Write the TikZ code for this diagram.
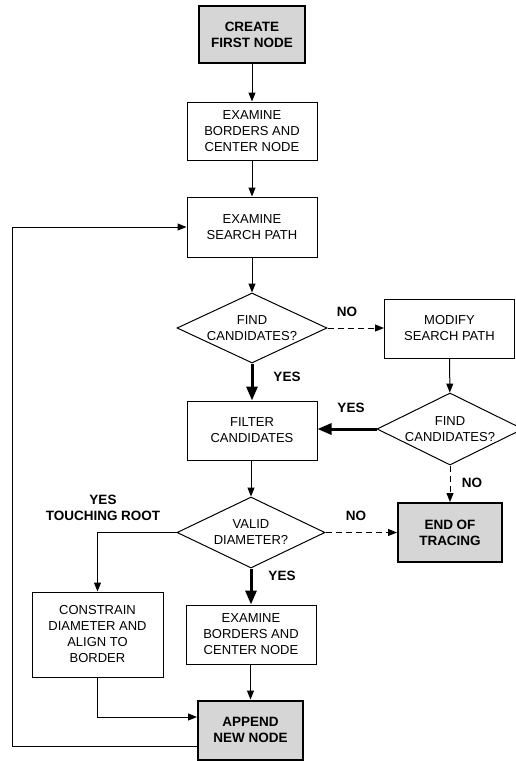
\documentclass[tikz,border=0pt]{standalone}
\usepackage{fontspec}
\setmainfont{Liberation Sans}
\usetikzlibrary{arrows.meta,shapes.geometric,calc}

\definecolor{boxgray}{HTML}{D6D6D6}

\tikzset{
  stepbox/.style={draw, line width=1pt, fill=white, align=center, inner sep=2pt,
    font=\fontsize{13}{16}\selectfont},
  keybox/.style={stepbox, fill=boxgray, line width=2pt,
    font=\fontsize{13.5}{16}\selectfont\bfseries},
  decision/.style={draw, diamond, line width=1pt, fill=white, inner sep=0pt},
  dtext/.style={align=center, inner sep=0pt, font=\fontsize{13}{16}\selectfont},
  flow/.style={line width=1pt, -{Triangle[length=9pt,width=7pt]}},
  noflow/.style={flow, dash pattern=on 6pt off 4pt},
  yesflow/.style={line width=3pt, -{Triangle[length=14pt,width=11pt]}},
  tag/.style={font=\fontsize{13.5}{16}\selectfont\bfseries, align=center, inner sep=0pt}
}

\begin{document}
\begin{tikzpicture}[x=1pt,y=-1pt]
\useasboundingbox (0,0) rectangle (515,761);

% process boxes
\node[keybox, minimum width=106pt, minimum height=57pt] (create) at (252,34.5) {CREATE\\FIRST NODE};
\node[stepbox, minimum width=130pt, minimum height=58pt] (exam1) at (252,131) {EXAMINE\\BORDERS AND\\CENTER NODE};
\node[stepbox, minimum width=130pt, minimum height=60pt] (search) at (252,227) {EXAMINE\\SEARCH PATH};
\node[stepbox, minimum width=130pt, minimum height=59pt] (modify) at (449.5,328.5) {MODIFY\\SEARCH PATH};
\node[stepbox, minimum width=130pt, minimum height=59pt] (filter) at (252,430.5) {FILTER\\CANDIDATES};
\node[keybox, minimum width=104pt, minimum height=59pt] (end) at (450,532.5) {END OF\\TRACING};
\node[stepbox, minimum width=131pt, minimum height=85pt] (constrain) at (97.5,634.5) {CONSTRAIN\\DIAMETER AND\\ALIGN TO\\BORDER};
\node[stepbox, minimum width=130pt, minimum height=59pt] (exam2) at (251,634.5) {EXAMINE\\BORDERS AND\\CENTER NODE};
\node[keybox, minimum width=105pt, minimum height=59pt] (append) at (250.5,730) {APPEND\\NEW NODE};

% decisions
\node[decision, minimum width=150pt, minimum height=70pt] (find1) at (252,328) {};
\node[dtext] at (find1) {FIND\\CANDIDATES?};
\node[decision, minimum width=146pt, minimum height=72pt] (find2) at (450,429) {};
\node[dtext] at (find2) {FIND\\CANDIDATES?};
\node[decision, minimum width=148pt, minimum height=71pt] (valid) at (251,532.5) {};
\node[dtext] at (valid) {VALID\\DIAMETER?};

% connectors
\draw[flow] (create) -- (exam1);
\draw[flow] (exam1) -- (search);
\draw[flow] (search) -- (find1);
\draw[noflow] (find1.east) -- (find1.east -| modify.west);
\draw[flow] (modify) -- (find2);
\draw[yesflow] (find1.south) -- (filter.north);
\draw[yesflow] (find2.west) -- (find2.west -| filter.east);
\draw[noflow] (find2.south) -- (end.north);
\draw[flow] (filter.south -| valid.north) -- (valid.north);
\draw[noflow] (valid.east) -- (valid.east -| end.west);
\draw[yesflow] (valid.south) -- (exam2.north);
\draw[flow] (valid.west) -| (constrain.north);
\draw[flow] (exam2.south -| append.north) -- (append.north);
\draw[flow] (constrain.south) |- ($(append.west)+(0,-13)$);
\coordinate (loopx) at (12,0);
\draw[flow] ($(append.west)+(0,16)$) -| (loopx |- search.west) -- (search.west);

% branch labels
\node[tag] at (347,312) {NO};
\node[tag] at (287,377) {YES};
\node[tag] at (351,408) {YES};
\node[tag] at (472,483) {NO};
\node[tag] at (103,508) {YES\\TOUCHING ROOT};
\node[tag] at (356,516) {NO};
\node[tag] at (282,576) {YES};
\end{tikzpicture}
\end{document}
